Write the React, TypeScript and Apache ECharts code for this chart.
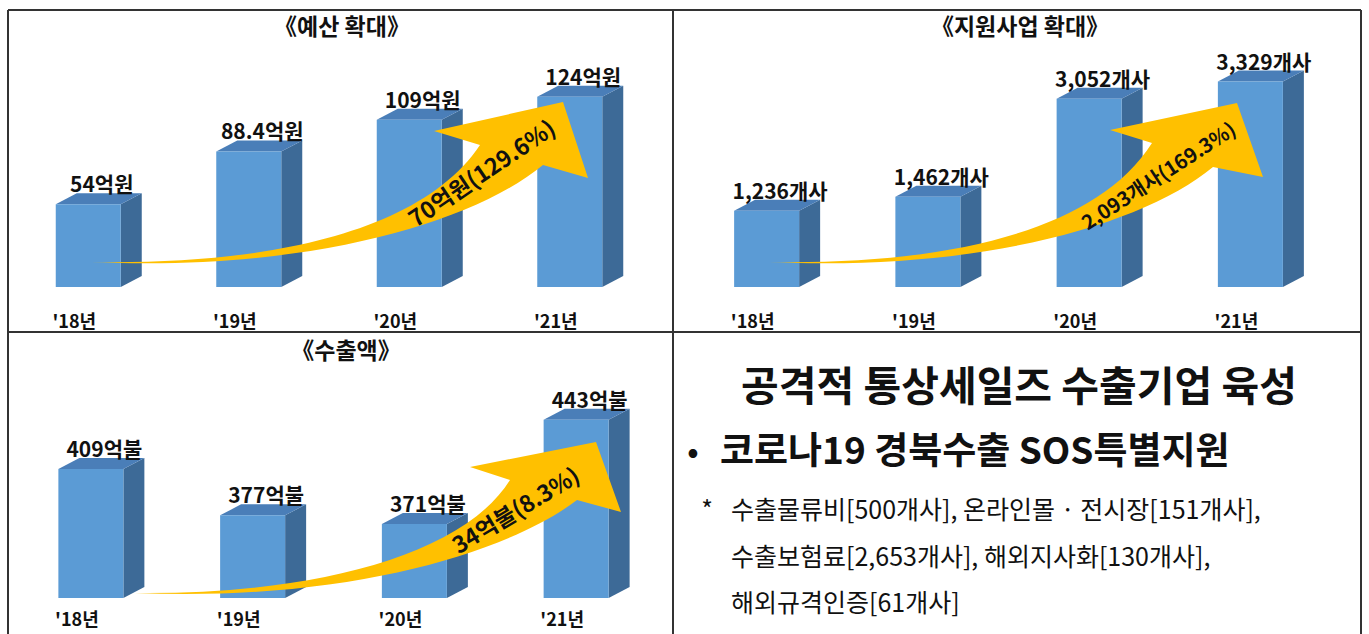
import React, { useEffect, useRef } from 'react';
import * as echarts from 'echarts';

const FONT = '"Noto Sans CJK KR", "Noto Sans", sans-serif';

// ---- data ----
const years = ["'18년", "'19년", "'20년", "'21년"];
const budgetValues = [54, 88.4, 109, 124];
const projectValues = [1236, 1462, 3052, 3329];
const exportValues = [409, 377, 371, 443];

const panelTitles = ['《예산 확대》', '《지원사업 확대》', '《수출액》'];
const arrowTexts = ['70억원(129.6%)', '2,093개사(169.3%)', '34억불(8.3%)'];
const sideTitle = '공격적 통상세일즈 수출기업 육성';
const bulletText = '코로나19 경북수출 SOS특별지원';
const noteLines = [
  '수출물류비[500개사], 온라인몰 · 전시장[151개사],',
  '수출보험료[2,653개사], 해외지사화[130개사],',
  '해외규격인증[61개사]',
];

// ---- style constants ----
const FRONT = '#5B9BD5';
const TOP = '#4A7EB8';
const SIDE = '#3D6A97';
const ARROW = '#FFC000';
const BAR_W = 65;
const DX = 21;
const DY = 11;

const ARROW1 =
  'M91 262 C260 265 420 235 480 145 L434 131 L563 102 L588 178 L543 165 C470 225 300 272 91 262 Z';
const ARROW2 =
  'M769 262 C936 265 1094 235 1152 143 L1110 130 L1237 103 L1263 177 L1213 167 C1142 226 975 272 769 262 Z';
const ARROW3 =
  'M135 593 C300 595 460 560 510 480 L470 467 L596 442 L621 512 L577 500 C505 555 340 602 135 593 Z';

echarts.graphic.registerShape('growArrow1', echarts.graphic.extendPath(ARROW1, {}));
echarts.graphic.registerShape('growArrow2', echarts.graphic.extendPath(ARROW2, {}));
echarts.graphic.registerShape('growArrow3', echarts.graphic.extendPath(ARROW3, {}));

function bar3d(gridIndex: number, values: number[], yMin: number, fmt: (v: number) => string) {
  return {
    type: 'custom',
    xAxisIndex: gridIndex,
    yAxisIndex: gridIndex,
    data: values.map((v, i) => [i, v]),
    encode: { x: 0, y: 1 },
    z: 2,
    renderItem: (params: any, api: any) => {
      const idx = api.value(0);
      const v = api.value(1);
      const tp = api.coord([idx, v]);
      const bp = api.coord([idx, yMin]);
      const l = tp[0] - BAR_W / 2;
      const r = tp[0] + BAR_W / 2;
      const t = tp[1];
      const b = bp[1];
      return {
        type: 'group',
        children: [
          {
            type: 'polygon',
            shape: { points: [[r, t], [r + DX, t - DY], [r + DX, b - DY], [r, b]] },
            style: { fill: SIDE },
          },
          {
            type: 'polygon',
            shape: { points: [[l, t], [l + DX, t - DY], [r + DX, t - DY], [r, t]] },
            style: { fill: TOP },
          },
          { type: 'rect', shape: { x: l, y: t, width: BAR_W, height: b - t }, style: { fill: FRONT } },
          {
            type: 'text',
            x: tp[0] + DX / 2 + 3,
            y: t - DY - 10,
            style: {
              text: fmt(v),
              align: 'center',
              verticalAlign: 'middle',
              fontSize: 21,
              fontWeight: 'bold',
              fontFamily: FONT,
              fill: '#111',
            },
          },
        ],
      };
    },
  };
}

function line(x1: number, y1: number, x2: number, y2: number) {
  return { type: 'line', z: 50, shape: { x1, y1, x2, y2 }, style: { stroke: '#333', lineWidth: 2 } };
}

function txt(x: number, y: number, text: string, size: number, weight: string, align = 'center', rotation = 0, z = 60) {
  return {
    type: 'text',
    x,
    y,
    rotation,
    z,
    style: {
      text,
      align,
      verticalAlign: 'middle',
      fontSize: size,
      fontWeight: weight,
      fontFamily: FONT,
      fill: '#111',
    },
  };
}

export default function App() {
  const ref = useRef<HTMLDivElement>(null);
  useEffect(() => {
    if (!ref.current) return;
    const chart = echarts.init(ref.current, undefined, { renderer: 'svg' });
    const ranges = [
      [0, 150],
      [0, 3500],
      [320, 470],
    ];
    const margins = [24, 24, 11];
    const rot = (deg: number) => (deg * Math.PI) / 180;
    const option: any = {
      animation: false,
      backgroundColor: '#ffffff',
      textStyle: { fontFamily: FONT },
      grid: [
        { left: 8, top: 57, width: 642, height: 230 },
        { left: 686, top: 71, width: 645, height: 216 },
        { left: 10, top: 380.5, width: 647, height: 217.5 },
      ],
      xAxis: [0, 1, 2].map((i) => ({
        type: 'category',
        gridIndex: i,
        data: years,
        axisLine: { show: false },
        axisTick: { show: false },
        axisLabel: {
          margin: margins[i],
          color: '#111',
          fontWeight: 'bold',
          fontSize: 18,
          fontFamily: FONT,
          padding: [0, 28, 0, 0],
        },
      })),
      yAxis: [0, 1, 2].map((i) => ({
        type: 'value',
        gridIndex: i,
        min: ranges[i][0],
        max: ranges[i][1],
        show: false,
        splitLine: { show: false },
      })),
      series: [
        bar3d(0, budgetValues, 0, (v) => `${v}억원`),
        bar3d(1, projectValues, 0, (v) => `${v.toLocaleString('en-US')}개사`),
        bar3d(2, exportValues, 320, (v) => `${v}억불`),
      ],
      graphic: [
        // borders
        line(8, 10, 1361, 10),
        line(8, 332, 1361, 332),
        line(8, 10, 8, 634),
        line(673, 10, 673, 634),
        line(1361, 10, 1361, 634),
        // panel titles
        txt(342, 25, panelTitles[0], 23, 'bold'),
        txt(1020, 25, panelTitles[1], 23, 'bold'),
        txt(346, 349, panelTitles[2], 23, 'bold'),
        // arrows
        { type: 'growArrow1', x: 0, y: 0, z: 100, style: { fill: ARROW } },
        { type: 'growArrow2', x: 0, y: 0, z: 100, style: { fill: ARROW } },
        { type: 'growArrow3', x: 0, y: 0, z: 100, style: { fill: ARROW } },
        txt(481, 172, arrowTexts[0], 23, 'bold', 'center', rot(34), 110),
        txt(1158, 175, arrowTexts[1], 20, 'bold', 'center', rot(33), 110),
        txt(515, 509, arrowTexts[2], 23, 'bold', 'center', rot(31), 110),
        // right-bottom panel text
        txt(1019, 383, sideTitle, 41, 'bold'),
        txt(693, 449, '•', 30, 'bold'),
        txt(720, 448, bulletText, 37, 'bold', 'left'),
        txt(707, 508, '*', 25, 'normal'),
        txt(731, 508, noteLines[0], 25, 'normal', 'left'),
        txt(731, 555, noteLines[1], 25, 'normal', 'left'),
        txt(731, 601, noteLines[2], 25, 'normal', 'left'),
      ],
    };
    chart.setOption(option);
    return () => chart.dispose();
  }, []);
  return (
    <div
      ref={ref}
      style={{ position: 'fixed', left: 0, top: 0, width: 1369, height: 634, background: '#fff' }}
    />
  );
}
